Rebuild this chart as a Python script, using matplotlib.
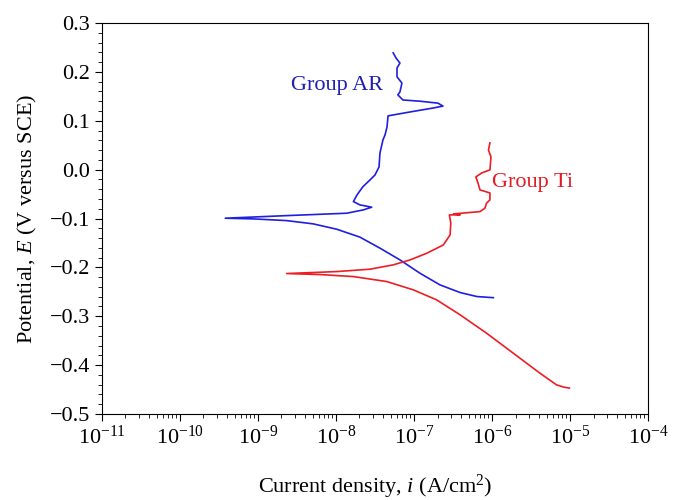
import numpy as np
import matplotlib
matplotlib.use('Agg')
import matplotlib.pyplot as plt
from matplotlib.ticker import LogLocator, MultipleLocator, FuncFormatter

# Group AR: cathodic end -> Ecorr -> anodic top
ar_i = [1.04e-6, 6.4e-7, 3.9e-7, 2.15e-7, 1.19e-7, 6.6e-8, 3.66e-8, 2.03e-8, 1.02e-8,
        5.1e-9, 2.33e-9, 8.7e-10, 3.8e-10,
        2.33e-9, 1.37e-8, 2.24e-8, 2.87e-8, 2.03e-8, 1.67e-8, 1.86e-8, 2.2e-8, 2.73e-8,
        3.16e-8, 3.56e-8, 3.66e-8, 4.0e-8, 4.25e-8, 4.5e-8, 4.65e-8, 8.9e-8, 1.75e-7,
        2.35e-7, 2.03e-7, 1.19e-7, 7.2e-8, 6.2e-8, 6.6e-8, 7.0e-8, 6.05e-8, 6.05e-8,
        6.6e-8, 5.9e-8, 5.4e-8]
ar_E = [-0.262, -0.2597, -0.2515, -0.2358, -0.2119, -0.1847, -0.1607, -0.1382, -0.1219,
        -0.111, -0.1043, -0.1008, -0.0994,
        -0.0941, -0.0892, -0.0824, -0.0769, -0.0722, -0.0654, -0.0517, -0.0354, -0.021,
        -0.011, 0.0055, 0.034, 0.061, 0.071, 0.087, 0.110, 0.118, 0.126,
        0.130, 0.136, 0.140, 0.1425, 0.153, 0.159, 0.177, 0.190, 0.208,
        0.218, 0.228, 0.239]

# Group Ti
ti_i = [9.8e-6, 8.3e-6, 6.7e-6, 4.1e-6, 1.87e-6, 8.5e-7, 3.9e-7, 1.95e-7, 9.8e-8, 4.47e-8,
        1.67e-8, 6.2e-9, 2.33e-9,
        1.02e-8, 2.73e-8, 5.4e-8, 8.9e-8, 1.46e-7, 2.38e-7, 2.9e-7, 2.96e-7, 2.84e-7,
        3.9e-7, 3.2e-7, 7.0e-7, 8.1e-7, 8.5e-7, 9.4e-7, 9.4e-7, 7.0e-7, 6.6e-7,
        6.2e-7, 7.4e-7, 9.4e-7, 9.7e-7, 9.0e-7, 9.4e-7]
ti_E = [-0.447, -0.445, -0.4403, -0.4163, -0.3755, -0.3346, -0.2971, -0.2665, -0.246, -0.229,
        -0.2188, -0.2147, -0.2126,
        -0.2086, -0.2037, -0.1949, -0.1847, -0.171, -0.154, -0.1335, -0.1096, -0.0926,
        -0.0926, -0.0906, -0.0859, -0.079, -0.0687, -0.062, -0.0477, -0.0415, -0.027,
        -0.015, -0.0067, -0.0006, 0.026, 0.040, 0.0546]

plt.rcParams['font.family'] = ['Liberation Serif', 'DejaVu Serif']
plt.rcParams['mathtext.fontset'] = 'custom'
plt.rcParams['mathtext.rm'] = 'Liberation Serif'
plt.rcParams['mathtext.it'] = 'Liberation Serif:italic'

fig = plt.figure(figsize=(6.8, 5.0), dpi=100)
ax = fig.add_axes([0.15, 0.172, 0.803, 0.782])

ax.plot(ar_i, ar_E, color='#1f1fe0', linewidth=1.2)
ax.plot(ti_i, ti_E, color='#ee1c24', linewidth=1.2)

ax.text(2.65e-9, 0.173, 'Group AR', color='#1f1fb0', fontsize=16, va='center')
ax.text(1.0e-6, -0.027, 'Group Ti', color='#e01c24', fontsize=16, va='center')

ax.set_xscale('log')
ax.set_xlim(1e-11, 1e-4)
ax.set_ylim(-0.5, 0.3)
ax.xaxis.set_major_locator(LogLocator(base=10, numticks=20))
ax.xaxis.set_minor_locator(LogLocator(base=10, subs=np.arange(2, 10), numticks=20))
ax.yaxis.set_major_locator(MultipleLocator(0.1))
ax.yaxis.set_minor_locator(MultipleLocator(0.02))
ax.yaxis.set_major_formatter(FuncFormatter(lambda v, p: f'{v:.1f}'.replace('-', '\u2212')))

ax.tick_params(which='major', direction='out', length=5, labelsize=16, top=False, right=False)
ax.tick_params(which='minor', direction='out', length=3, top=False, right=False)

ax.set_xlabel('Current density, $i$ (A/cm$^2$)', fontsize=16, labelpad=17)
ax.set_ylabel('Potential, $E$ (V versus SCE)', fontsize=16, labelpad=8)

fig.savefig('out.png', dpi=100)
